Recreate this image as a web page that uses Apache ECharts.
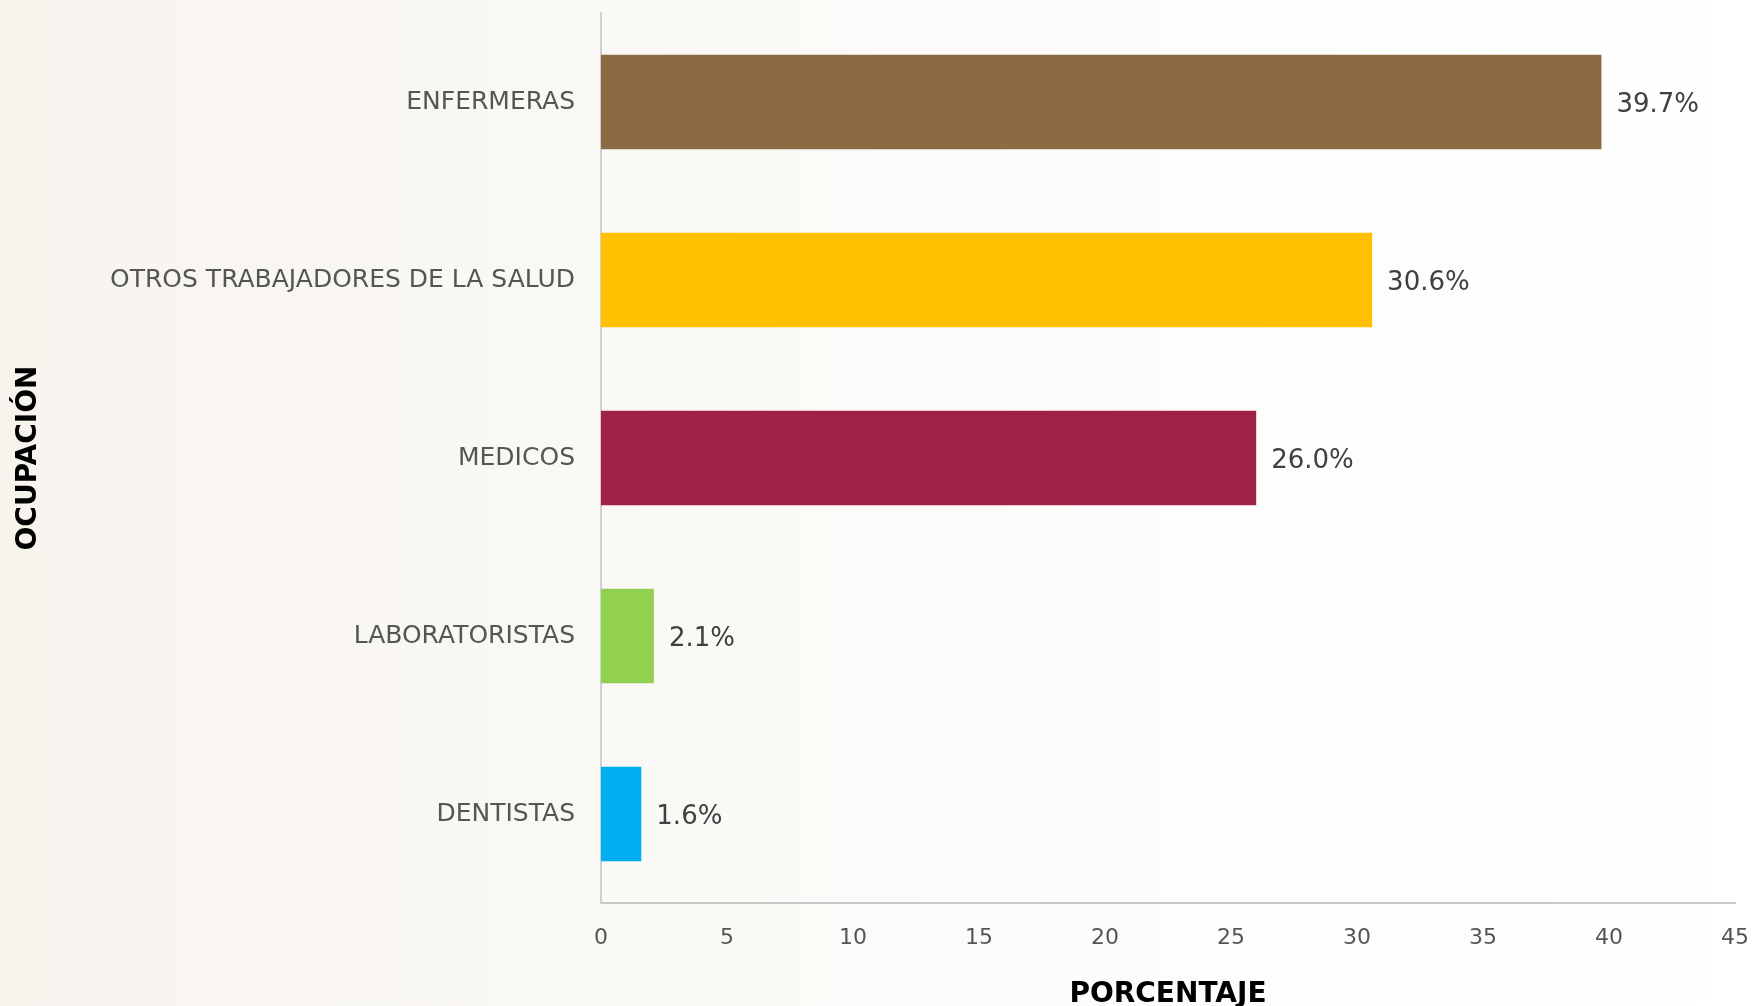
<!DOCTYPE html>
<html>
<head>
<meta charset="utf-8">
<script src="https://cdn.jsdelivr.net/npm/echarts@6/dist/echarts.min.js"></script>
<style>
  html, body { margin: 0; padding: 0; }
  #main { width: 1755px; height: 1006px; }
</style>
</head>
<body>
<div id="main"></div>
<script>
// ocupación del personal de salud, de arriba hacia abajo
const categories = ['ENFERMERAS', 'OTROS TRABAJADORES DE LA SALUD', 'MEDICOS', 'LABORATORISTAS', 'DENTISTAS'];
const values = [39.7, 30.6, 26.0, 2.1, 1.6];
const barColors = ['#8b6b43', '#ffc000', '#9e2246', '#92d050', '#00b0f0'];
const xTicks = [0, 45, 5]; // min, max, interval

const font = 'DejaVu Sans';
const chart = echarts.init(document.getElementById('main'));

const option = {
    backgroundColor: {
        type: 'linear', x: 0, y: 0, x2: 1, y2: 0,
        colorStops: [
            { offset: 0, color: '#f7f4ee' },
            { offset: 0.3, color: '#faf8f4' },
            { offset: 0.6, color: '#fdfcfb' },
            { offset: 1, color: '#ffffff' }
        ]
    },
    grid: {
        left: 601,
        right: 20,
        top: 13,
        bottom: 103,
        outerBoundsMode: 'none'
    },
    xAxis: {
        type: 'value',
        min: xTicks[0],
        max: xTicks[1],
        interval: xTicks[2],
        name: 'PORCENTAJE',
        nameLocation: 'middle',
        nameGap: 78,
        nameTextStyle: {
            color: '#000',
            fontFamily: font,
            fontWeight: 'bold',
            fontSize: 28
        },
        axisLine: { show: true, lineStyle: { color: '#c8c8c8', width: 2 } },
        axisTick: { show: false },
        splitLine: { show: false },
        axisLabel: {
            color: '#555',
            fontFamily: font,
            fontSize: 22,
            margin: 24
        }
    },
    yAxis: {
        type: 'category',
        data: categories,
        inverse: true,
        name: 'OCUPACIÓN',
        nameLocation: 'middle',
        nameRotate: 90,
        nameGap: 558,
        nameTextStyle: {
            color: '#000',
            fontFamily: font,
            fontWeight: 'bold',
            fontSize: 28
        },
        axisLine: { show: true, lineStyle: { color: '#d0d0d0', width: 2 } },
        axisTick: { show: false },
        axisLabel: {
            color: '#555',
            fontFamily: font,
            fontSize: 25,
            margin: 26,
            padding: [5, 0, 0, 0]
        }
    },
    series: [{
        type: 'bar',
        data: values.map((v, i) => ({ value: v, itemStyle: { color: barColors[i] } })),
        barWidth: '53%',
        label: {
            show: true,
            position: 'right',
            distance: 15,
            offset: [0, 3],
            color: '#404040',
            fontFamily: font,
            fontSize: 26,
            formatter: p => p.value.toFixed(1) + '%'
        }
    }]
};

chart.setOption(option);
</script>
</body>
</html>
